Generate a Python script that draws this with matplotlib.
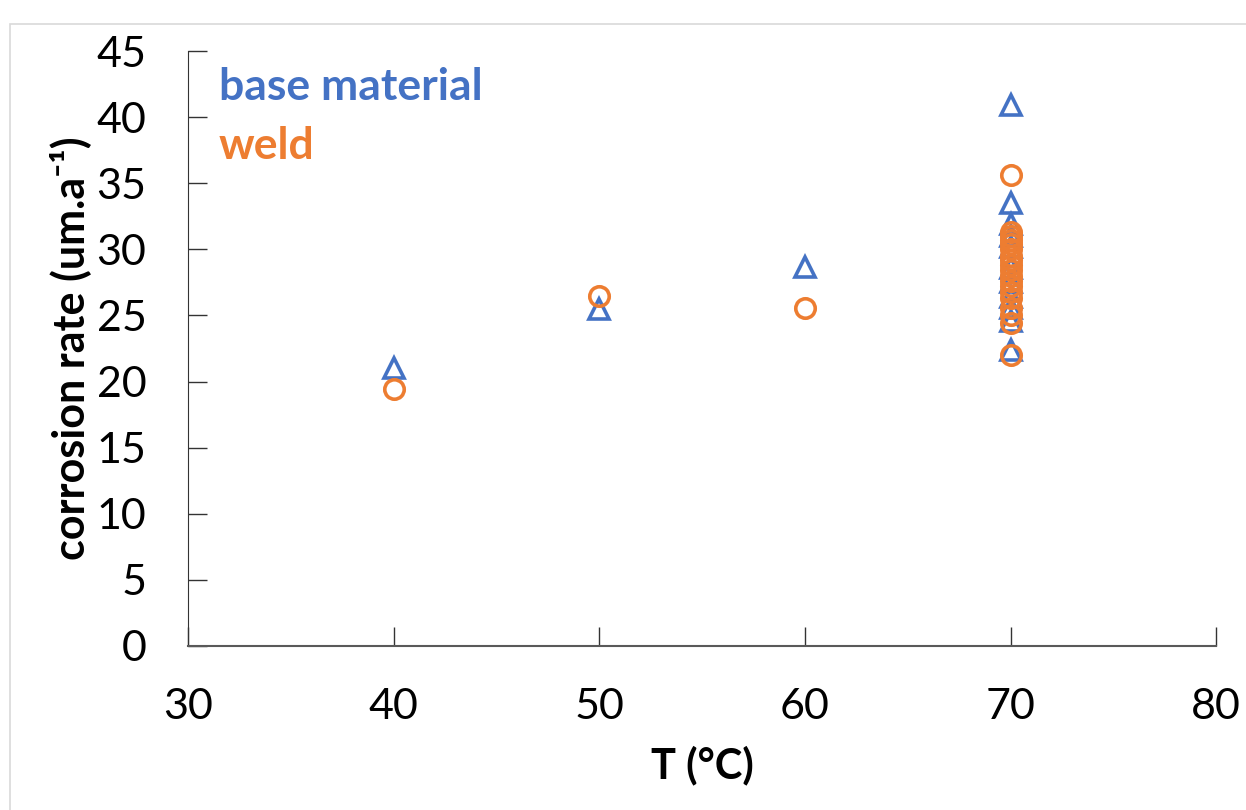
import matplotlib
matplotlib.use('Agg')
import matplotlib.pyplot as plt
from matplotlib.patches import Rectangle

plt.rcParams['font.family'] = ['Lato', 'DejaVu Sans']

# corrosion rate vs temperature
t_base = [40, 50, 60, 70, 70, 70, 70, 70, 70, 70, 70, 70, 70, 70]
cr_base = [21.0, 25.5, 28.7, 40.9, 33.5, 31.9, 31.0, 30.2, 28.6, 27.5, 26.4, 25.6, 24.6, 22.4]

t_weld = [40, 50, 60, 70, 70, 70, 70, 70, 70, 70, 70, 70, 70, 70, 70, 70, 70, 70, 70, 70, 70, 70]
cr_weld = [19.4, 26.5, 25.6, 35.6, 31.3, 31.0, 30.7, 30.4, 30.0, 29.5, 29.2, 28.8,
           28.4, 28.0, 27.6, 27.2, 26.8, 26.3, 25.6, 25.0, 24.4, 22.0]

blue = '#4472C4'
orange = '#ED7D31'

fig = plt.figure(figsize=(12.46, 8.10), dpi=100)
ax = fig.add_axes([0.151, 0.2025, 0.825, 0.7345])

ax.plot(t_base, cr_base, linestyle='none', marker='^', markersize=15,
        markerfacecolor='none', markeredgecolor=blue, markeredgewidth=2.6)
ax.plot(t_weld, cr_weld, linestyle='none', marker='o', markersize=14,
        markerfacecolor='none', markeredgecolor=orange, markeredgewidth=2.6)

ax.set_xlim(30, 80)
ax.set_ylim(0, 45)
ax.set_xticks(range(30, 81, 10))
ax.set_yticks(range(0, 46, 5))
ax.tick_params(axis='both', direction='in', length=14, width=1.0,
               labelsize=31, pad=30, color='#333333')
ax.spines['top'].set_visible(False)
ax.spines['right'].set_visible(False)
ax.spines['left'].set_color('#333333')
ax.spines['bottom'].set_color('#595959')
ax.spines['bottom'].set_linewidth(1.5)

ax.set_xlabel('T (°C)', fontsize=30, fontweight='bold', labelpad=14)
ax.set_ylabel('corrosion rate (um.a⁻¹)', fontsize=31,
              fontweight='bold', labelpad=4)

ax.text(0.03, 0.94, 'base material', transform=ax.transAxes, color=blue,
        fontsize=32, fontweight='bold', va='center')
ax.text(0.03, 0.84, 'weld', transform=ax.transAxes, color=orange,
        fontsize=32, fontweight='bold', va='center')

fig.patches.append(Rectangle((10 / 1246, -0.05), 1.1, 1.035 - 12 / 810,
                             transform=fig.transFigure, fill=False,
                             edgecolor='#d9d9d9', linewidth=1.2))

fig.savefig('out.png', dpi=100)
